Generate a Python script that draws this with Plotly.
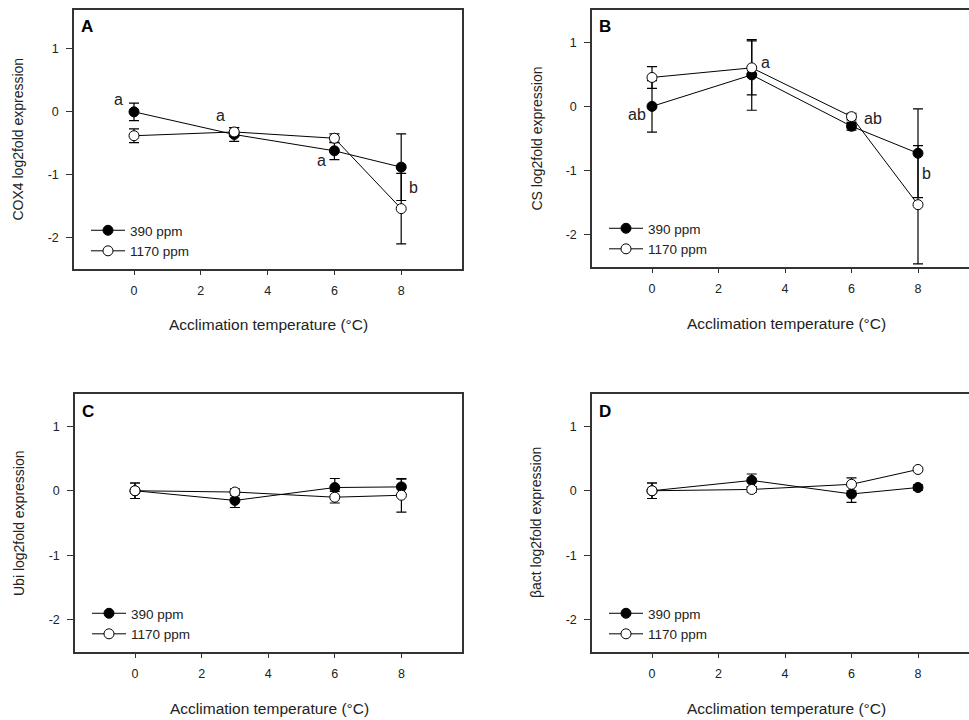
import plotly.graph_objects as go

W, H = 969, 720

temps = [0, 3, 6, 8]
series_names = ["390 ppm", "1170 ppm"]

# Panel A: COX4
cox4_390 = [0.0, -0.36, -0.62, -0.88]
cox4_390_err = [0.14, 0.11, 0.14, 0.53]
cox4_1170 = [-0.38, -0.32, -0.42, -1.54]
cox4_1170_err = [0.11, 0.07, 0.07, 0.56]
cox4_letters = ["a", "a", "a", "b"]
cox4_letter_x = [-0.45, 2.6, 5.6, 8.38]
cox4_letter_y = [0.2, -0.06, -0.78, -1.2]

# Panel B: CS
cs_390 = [0.0, 0.49, -0.31, -0.73]
cs_390_err = [0.40, 0.55, 0.06, 0.69]
cs_1170 = [0.45, 0.60, -0.16, -1.53]
cs_1170_err = [0.17, 0.42, 0.05, 0.92]
cs_letters = ["ab", "a", "ab", "b"]
cs_letter_x = [-0.45, 3.4, 6.65, 8.25]
cs_letter_y = [-0.13, 0.69, -0.19, -1.04]

# Panel C: Ubi
ubi_390 = [0.0, -0.15, 0.05, 0.06]
ubi_390_err = [0.12, 0.11, 0.14, 0.12]
ubi_1170 = [0.0, -0.02, -0.10, -0.07]
ubi_1170_err = [0.12, 0.05, 0.09, 0.26]

# Panel D: beta-actin
bact_390 = [0.0, 0.16, -0.05, 0.05]
bact_390_err = [0.12, 0.10, 0.13, 0.04]
bact_1170 = [0.0, 0.02, 0.10, 0.33]
bact_1170_err = [0.12, 0.04, 0.10, 0.03]

y_titles = ["COX4 log2fold expression", "CS log2fold expression",
            "Ubi log2fold expression", "βact log2fold expression"]
panel_labels = ["A", "B", "C", "D"]
x_title = "Acclimation temperature (°C)"
x_ticks = [0, 2, 4, 6, 8]
y_ticks = [-2, -1, 0, 1]
y_tick_text = ["-2", "-1", "0", "1"]

FONT = "Liberation Sans, Arial, sans-serif"
INK = "#222222"
AX = "#333333"

# pixel boxes: (left, right, top, bottom)
boxes = [(74, 462, 10, 269), (592, 969, 10, 267), (75, 462, 394, 652), (592, 969, 394, 652)]
x_zero_px = [134, 652, 135, 652]
px_per_unit = [33.4, 33.25, 33.3, 33.25]
y_ranges = [[-2.5, 1.62], [-2.5, 1.5], [-2.5, 1.5], [-2.5, 1.5]]

panels = [
    (cox4_390, cox4_390_err, cox4_1170, cox4_1170_err),
    (cs_390, cs_390_err, cs_1170, cs_1170_err),
    (ubi_390, ubi_390_err, ubi_1170, ubi_1170_err),
    (bact_390, bact_390_err, bact_1170, bact_1170_err),
]

fig = go.Figure()
layout = dict(width=W, height=H, margin=dict(l=0, r=0, t=0, b=0),
              paper_bgcolor="white", plot_bgcolor="white",
              font=dict(family=FONT, size=12, color=INK), showlegend=True)
annotations = []

for i, (v390, e390, v1170, e1170) in enumerate(panels):
    n = i + 1
    xa = "x" if n == 1 else f"x{n}"
    ya = "y" if n == 1 else f"y{n}"
    leg = "legend" if n == 1 else f"legend{n}"
    L, R, T, B = boxes[i]
    x0 = (L - x_zero_px[i]) / px_per_unit[i]
    x1 = (R - x_zero_px[i]) / px_per_unit[i]
    for name, vals, errs, fill in [(series_names[0], v390, e390, "black"),
                                   (series_names[1], v1170, e1170, "white")]:
        fig.add_trace(go.Scatter(
            x=temps, y=vals, name=name, mode="lines+markers",
            xaxis=xa, yaxis=ya, legend=leg,
            line=dict(color="black", width=1),
            marker=dict(size=10, color=fill, line=dict(color="black", width=1)),
            error_y=dict(type="data", array=errs, visible=True, color="black",
                         thickness=1.2, width=5),
        ))
    xkey = "xaxis" if n == 1 else f"xaxis{n}"
    ykey = "yaxis" if n == 1 else f"yaxis{n}"
    layout[xkey] = dict(domain=[L / W, min(R / W, 1.0)], range=[x0, x1], anchor=ya,
                        tickvals=x_ticks, ticks="outside", ticklen=4, tickcolor=AX,
                        showline=True, mirror=True, linecolor=AX, linewidth=1.5,
                        showgrid=False, zeroline=False, ticklabelstandoff=5,
                        tickfont=dict(size=12.5, color=INK), fixedrange=True)
    layout[ykey] = dict(domain=[1 - B / H, 1 - T / H], range=y_ranges[i], anchor=xa,
                        tickvals=y_ticks, ticktext=y_tick_text, ticks="outside", ticklen=6,
                        tickcolor=AX, showline=True, mirror=(n in (1, 3)), linecolor=AX,
                        linewidth=1.5, showgrid=False, zeroline=False, ticklabelstandoff=5,
                        tickfont=dict(size=12.5, color=INK), fixedrange=True)
    # legend
    layout[leg] = dict(x=(L + 12) / W, y=1 - (B - 54) / H, xanchor="left", yanchor="top",
                       bgcolor="rgba(0,0,0,0)", font=dict(size=13.5, color=INK),
                       itemwidth=34, tracegroupgap=0)
    # panel letter
    annotations.append(dict(text=f"<b>{panel_labels[i]}</b>", xref="paper", yref="paper",
                            x=(L + 5) / W, y=1 - (T + 17) / H, xanchor="left", yanchor="middle",
                            showarrow=False, font=dict(size=17, color="black")))
    # axis titles
    annotations.append(dict(text=x_title, xref="paper", yref="paper",
                            x=(L + 194) / W, y=1 - (B + 56) / H, xanchor="center", yanchor="middle",
                            showarrow=False, font=dict(size=15.5, color=INK)))
    annotations.append(dict(text=y_titles[i], xref="paper", yref="paper",
                            x=(L - 56) / W, y=1 - ((T + B) / 2) / H, xanchor="center", yanchor="middle",
                            textangle=-90, showarrow=False, font=dict(size=14, color=INK)))

letter_sets = [(cox4_letters, cox4_letter_x, cox4_letter_y, "x", "y"),
               (cs_letters, cs_letter_x, cs_letter_y, "x2", "y2")]
for letters, lx, ly, xr, yr in letter_sets:
    for t, xx, yy in zip(letters, lx, ly):
        annotations.append(dict(text=t, x=xx, y=yy, xref=xr, yref=yr, showarrow=False,
                                xanchor="center", yanchor="middle",
                                font=dict(size=16, color=INK)))

layout["annotations"] = annotations
fig.update_layout(**layout)
fig.write_html("out.html", config={"displayModeBar": False},
               post_script="document.body.style.margin='0';document.body.style.overflow='hidden';")
